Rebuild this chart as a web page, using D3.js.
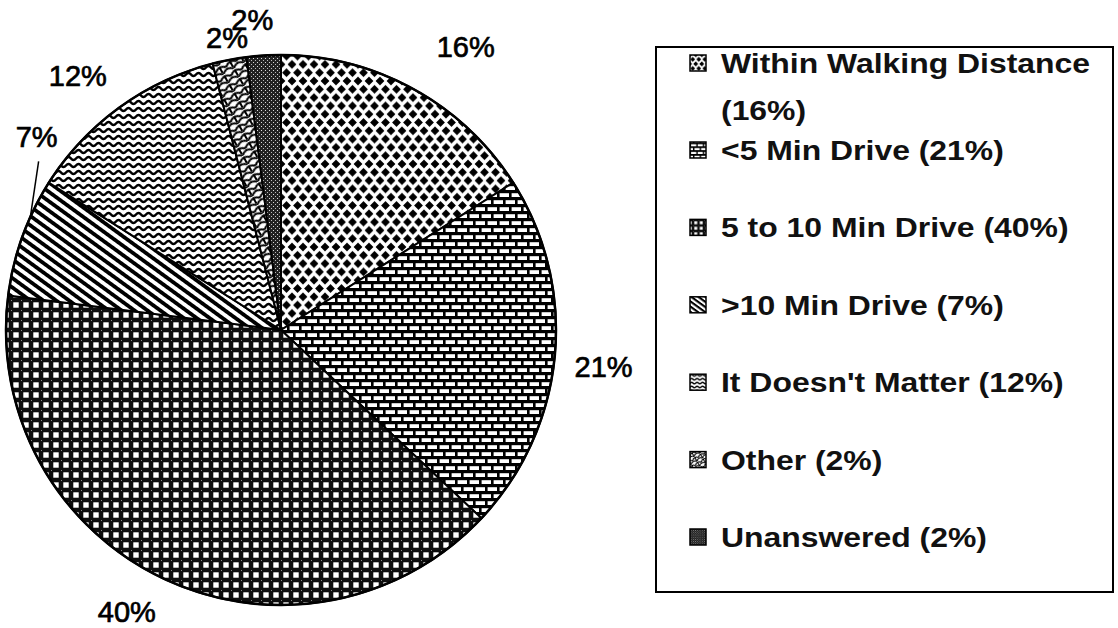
<!DOCTYPE html>
<html><head><meta charset="utf-8">
<script src="https://cdn.jsdelivr.net/npm/d3@7"></script>
<style>body{margin:0;background:#fff}svg{display:block}</style>
</head><body>
<svg id="c" width="1118" height="628"></svg>
<script>
// ---- data ----
const categories = ["Within Walking Distance", "<5 Min Drive", "5 to 10 Min Drive", ">10 Min Drive", "It Doesn't Matter", "Other", "Unanswered"];
const values = [16, 21, 40, 7, 12, 2, 2];
const sliceLabels = ["16%", "21%", "40%", "7%", "12%", "2%", "2%"];
const legendLines = [["Within Walking Distance", "(16%)"], ["<5 Min Drive (21%)"], ["5 to 10 Min Drive (40%)"], [">10 Min Drive (7%)"], ["It Doesn't Matter (12%)"], ["Other (2%)"], ["Unanswered (2%)"]];
const patternIds = ["diamond", "brick", "grid", "diag", "wave", "shingle", "speck"];

// ---- layout (not data) ----
const cx = 281, cy = 330, R = 275;
const labelR = 315;
const labelNudge = [[33, -7], [9, 7], [-20, -3], [52, -87], [-18, 0], [5, 17], [-9, 4]];

const svg = d3.select("#c");
svg.append("rect").attr("width", 1118).attr("height", 628).attr("fill", "#fff");
const defs = svg.append("defs");

function makePatterns(suffix, s) {
  // diamonds
  let p = defs.append("pattern").attr("id", "diamond" + suffix).attr("patternUnits", "userSpaceOnUse")
    .attr("width", 11 * s).attr("height", 16.6 * s);
  p.append("rect").attr("width", 11 * s).attr("height", 16.6 * s).attr("fill", "#fff");
  const h = 4.4 * s;
  const dia = (x, y) => `M${x},${y - h}L${x + h},${y}L${x},${y + h}L${x - h},${y}Z`;
  p.append("path").attr("fill", "#000").attr("d",
    dia(0, 0) + dia(11 * s, 0) + dia(0, 16.6 * s) + dia(11 * s, 16.6 * s) + dia(5.5 * s, 8.3 * s));
  // bricks
  p = defs.append("pattern").attr("id", "brick" + suffix).attr("patternUnits", "userSpaceOnUse")
    .attr("width", 12 * s).attr("height", 7 * s * 2);
  p.append("rect").attr("width", 12 * s).attr("height", 14 * s).attr("fill", "#fff");
  p.append("rect").attr("y", 0).attr("width", 12 * s).attr("height", 3.2 * s).attr("fill", "#000");
  p.append("rect").attr("y", 7 * s).attr("width", 12 * s).attr("height", 3.2 * s).attr("fill", "#000");
  p.append("rect").attr("x", 0).attr("y", 0).attr("width", 2.6 * s).attr("height", 7 * s).attr("fill", "#000");
  p.append("rect").attr("x", 6 * s).attr("y", 7 * s).attr("width", 2.6 * s).attr("height", 7 * s).attr("fill", "#000");
  // grid
  p = defs.append("pattern").attr("id", "grid" + suffix).attr("patternUnits", "userSpaceOnUse")
    .attr("width", 10 * s).attr("height", 10 * s);
  p.append("rect").attr("width", 10 * s).attr("height", 10 * s).attr("fill", "#0d0d0d");
  p.append("rect").attr("x", 2.3 * s).attr("y", 2.3 * s).attr("width", 5.4 * s).attr("height", 5.4 * s).attr("fill", "#fff");
  p.append("rect").attr("x", 0).attr("y", 0).attr("width", 1 * s).attr("height", 1 * s).attr("fill", "#888");
  // diagonal
  p = defs.append("pattern").attr("id", "diag" + suffix).attr("patternUnits", "userSpaceOnUse")
    .attr("width", 20 * s).attr("height", 7.6 * s).attr("patternTransform", "rotate(36)");
  p.append("rect").attr("width", 20 * s).attr("height", 7.6 * s).attr("fill", "#fff");
  p.append("rect").attr("width", 20 * s).attr("height", 3.8 * s).attr("fill", "#000");
  // wave
  p = defs.append("pattern").attr("id", "wave" + suffix).attr("patternUnits", "userSpaceOnUse")
    .attr("width", 10 * s).attr("height", 7 * s);
  p.append("rect").attr("width", 10 * s).attr("height", 7 * s).attr("fill", "#fff");
  p.append("path").attr("fill", "none").attr("stroke", "#000").attr("stroke-width", 2.5 * s)
    .attr("d", `M${-5 * s},${3.5 * s}Q${-2.5 * s},${0.6 * s} 0,${3.5 * s}T${5 * s},${3.5 * s}T${10 * s},${3.5 * s}T${15 * s},${3.5 * s}`);
  // shingle
  p = defs.append("pattern").attr("id", "shingle" + suffix).attr("patternUnits", "userSpaceOnUse")
    .attr("width", 12 * s).attr("height", 10 * s).attr("patternTransform", "rotate(-30)");
  p.append("rect").attr("width", 12 * s).attr("height", 10 * s).attr("fill", "#fff");
  p.append("path").attr("fill", "none").attr("stroke", "#000").attr("stroke-width", 2 * s)
    .attr("d", `M0,${5 * s}Q${6 * s},${-1 * s} ${12 * s},${5 * s}M${-6 * s},${10 * s}Q0,${4 * s} ${6 * s},${10 * s}M${6 * s},${10 * s}Q${12 * s},${4 * s} ${18 * s},${10 * s}M${6 * s},${2 * s}L${6 * s},${8 * s}`);
  // speckle
  p = defs.append("pattern").attr("id", "speck" + suffix).attr("patternUnits", "userSpaceOnUse")
    .attr("width", 4 * s).attr("height", 4 * s);
  p.append("rect").attr("width", 4 * s).attr("height", 4 * s).attr("fill", "#222");
  p.append("rect").attr("x", 0).attr("y", 0).attr("width", 1 * s).attr("height", 1 * s).attr("fill", "#ddd");
  p.append("rect").attr("x", 2 * s).attr("y", 2 * s).attr("width", 1 * s).attr("height", 1 * s).attr("fill", "#bbb");
}
makePatterns("", 1);
makePatterns("-s", 0.55);

// ---- pie ----
const pie = d3.pie().sort(null).value(d => d.v).startAngle(0).endAngle(2 * Math.PI);
const data = pie(values.map((v, i) => ({ v, i })));
const arc = d3.arc().innerRadius(0).outerRadius(R);

const g = svg.append("g").attr("transform", `translate(${cx},${cy})`);
g.selectAll("path.slice").data(data).join("path")
  .attr("class", "slice")
  .attr("d", arc)
  .attr("fill", d => `url(#${patternIds[d.index]})`)
  .attr("stroke", "#000").attr("stroke-width", 2).attr("stroke-linejoin", "round");
g.append("circle").attr("r", R).attr("fill", "none").attr("stroke", "#000").attr("stroke-width", 2.5);

// labels
const pt = (a, r) => [r * Math.sin(a), -r * Math.cos(a)];
data.forEach((d, i) => {
  const mid = (d.startAngle + d.endAngle) / 2;
  const [x, y] = pt(mid, labelR);
  const lx = x + labelNudge[i][0], ly = y + labelNudge[i][1];
  g.append("text")
    .attr("x", lx).attr("y", ly).attr("dy", "0.36em")
    .attr("text-anchor", "middle")
    .attr("font-family", "Liberation Sans, Arial, sans-serif")
    .attr("font-size", 29)
    .attr("fill", "#000").attr("stroke", "#000").attr("stroke-width", 0.7)
    .text(sliceLabels[i]);
  if (categories[i] === ">10 Min Drive") {
    const [ex, ey] = pt(mid + 4.5 * Math.PI / 180, R);
    g.append("line").attr("x1", lx + 2).attr("y1", ly + 25).attr("x2", ex).attr("y2", ey)
      .attr("stroke", "#000").attr("stroke-width", 1.5);
  }
});

// ---- legend ----
const lg = svg.append("g");
lg.append("rect").attr("x", 656).attr("y", 47).attr("width", 457).attr("height", 545)
  .attr("fill", "#fff").attr("stroke", "#000").attr("stroke-width", 2);
const rowY = d3.scaleLinear().domain([1, 6]).range([160, 547]);
const baseFor = i => i === 0 ? 73 : rowY(i);
legendLines.forEach((lines, i) => {
  const by = baseFor(i);
  lg.append("rect").attr("x", 690).attr("y", by - 18).attr("width", 16).attr("height", 16)
    .attr("fill", `url(#${patternIds[i]}-s)`).attr("stroke", "#000").attr("stroke-width", 1.5);
  lines.forEach((t, k) => {
    lg.append("text")
      .attr("transform", `translate(721,${by + k * 47}) scale(1.14,1)`)
      .attr("font-family", "Liberation Sans, Arial, sans-serif")
      .attr("font-size", 28).attr("font-weight", "bold")
      .attr("fill", "#111")
      .text(t);
  });
});
</script>
</body></html>
